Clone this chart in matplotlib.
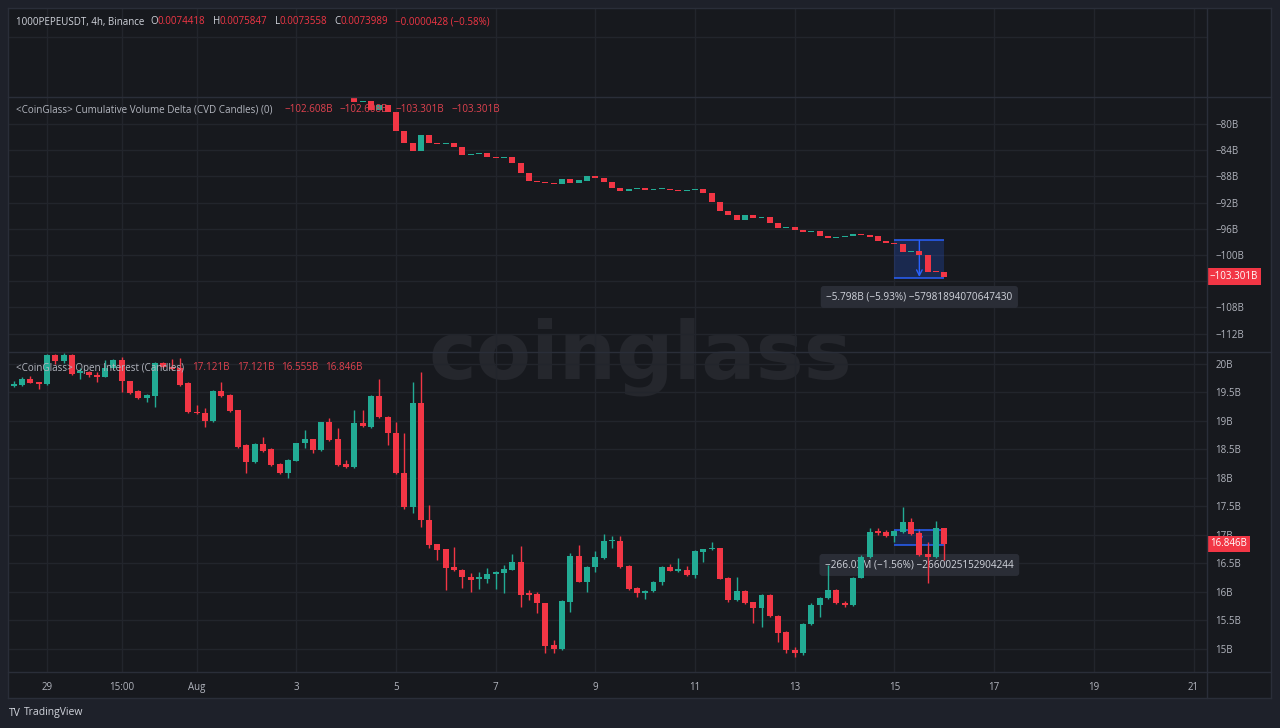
import matplotlib
matplotlib.use('Agg')
import matplotlib.pyplot as plt
import matplotlib.dates as mdates
import matplotlib.transforms as mtrans
from matplotlib.lines import Line2D
from matplotlib.patches import Rectangle
import numpy as np
import pandas as pd

plt.rcParams['font.family'] = ['Open Sans', 'DejaVu Sans']

W, H = 1280, 728
BG = '#17191e'
OUTER = '#1e212a'
GRID = '#22252c'
LINE = '#2a2e39'
UP = '#22ab94'
DOWN = '#f23645'
TXT = '#b2b5be'
LIGHT = '#d1d4dc'
VAL = '#e0424f'
MEAS = '#2962ff'

# ---- data -------------------------------------------------------------
times = pd.date_range('2024-07-28 08:00', periods=113, freq='4h')

oi_open = [19.62, 19.63, 19.74, 19.67, 19.65, 20.16, 20.05, 20.16, 19.84, 19.86,
           19.80, 19.78, 19.93, 20.07, 19.70, 19.53, 19.40, 19.44, 20.02, 19.95,
           19.93, 19.67, 19.16, 19.14, 19.00, 19.53, 19.46, 19.19, 18.58, 18.28,
           18.60, 18.51, 18.25, 18.09, 18.30, 18.61, 18.68, 18.49, 18.98, 18.68,
           18.25, 18.19, 18.96, 18.89, 19.44, 19.07, 18.79, 18.09, 17.49, 19.32,
           17.26, 16.84, 16.75, 16.44, 16.39, 16.27, 16.23, 16.23, 16.31, 16.33,
           16.39, 16.53, 15.97, 15.96, 15.80, 15.07, 15.00, 15.82, 16.63, 16.18,
           16.44, 16.60, 16.89, 16.89, 16.46, 16.07, 15.98, 16.02, 16.18, 16.44,
           16.37, 16.39, 16.30, 16.71, 16.75, 16.77, 16.25, 15.86, 16.02, 15.82,
           15.72, 15.95, 15.58, 15.30, 14.99, 14.93, 15.44, 15.77, 15.89, 16.04,
           15.81, 15.77, 16.25, 16.61, 17.05, 17.05, 16.98, 17.05, 17.23, 17.04,
           16.67, 16.61, 17.121]
oi_close = [19.65, 19.74, 19.67, 19.65, 20.16, 20.05, 20.16, 19.82, 19.88, 19.80,
            19.78, 19.93, 20.07, 19.70, 19.49, 19.40, 19.46, 20.02, 19.95, 19.92,
            19.63, 19.16, 19.14, 19.00, 19.53, 19.44, 19.18, 18.54, 18.28, 18.60,
            18.47, 18.23, 18.09, 18.32, 18.61, 18.68, 18.49, 18.98, 18.67, 18.23,
            18.19, 18.96, 18.91, 19.44, 19.07, 18.79, 18.09, 17.49, 19.32, 17.26,
            16.82, 16.74, 16.42, 16.39, 16.26, 16.21, 16.25, 16.31, 16.35, 16.40,
            16.53, 15.95, 15.95, 15.80, 15.05, 15.00, 15.84, 16.63, 16.18, 16.44,
            16.61, 16.89, 16.91, 16.44, 16.05, 15.98, 16.02, 16.18, 16.44, 16.37,
            16.39, 16.30, 16.72, 16.75, 16.77, 16.23, 15.86, 16.02, 15.81, 15.72,
            15.95, 15.58, 15.28, 14.98, 14.93, 15.44, 15.77, 15.89, 16.04, 15.81,
            15.77, 16.25, 16.61, 17.05, 17.04, 16.98, 17.07, 17.23, 17.02, 16.65,
            16.61, 17.12, 16.846]
oi_high = [19.70, 19.77, 19.79, 19.68, 20.18, 20.18, 20.19, 20.18, 19.93, 19.88,
           19.86, 20.07, 20.08, 20.12, 19.71, 19.54, 19.47, 20.03, 20.04, 20.09,
           20.10, 19.68, 19.28, 19.23, 19.54, 19.68, 19.47, 19.20, 18.59, 18.61,
           18.72, 18.52, 18.26, 18.33, 18.62, 18.84, 18.69, 18.99, 19.05, 18.88,
           18.32, 19.19, 19.19, 19.46, 19.74, 19.08, 18.98, 18.79, 19.68, 19.86,
           17.53, 16.85, 16.76, 16.79, 16.40, 16.34, 16.35, 16.42, 16.37, 16.48,
           16.66, 16.81, 16.04, 16.00, 15.81, 15.16, 15.86, 16.68, 16.82, 16.46,
           16.72, 17.02, 16.98, 16.98, 16.47, 16.08, 16.03, 16.19, 16.46, 16.49,
           16.60, 16.46, 16.73, 16.76, 16.88, 16.78, 16.27, 16.27, 16.04, 15.83,
           15.97, 15.96, 15.59, 15.31, 15.04, 15.45, 15.80, 15.91, 16.47, 16.05,
           15.85, 16.26, 16.64, 17.12, 17.12, 17.09, 17.09, 17.49, 17.29, 17.07,
           16.87, 17.25, 17.121]
oi_low = [19.60, 19.61, 19.66, 19.56, 19.63, 20.00, 20.02, 19.80, 19.74, 19.78,
          19.68, 19.77, 19.92, 19.51, 19.47, 19.38, 19.33, 19.25, 19.93, 19.90,
          19.62, 19.14, 19.12, 18.89, 18.98, 19.42, 19.16, 18.52, 18.09, 18.26,
          18.45, 18.21, 18.07, 18.00, 18.29, 18.53, 18.44, 18.47, 18.65, 18.21,
          18.17, 18.17, 18.89, 18.87, 19.05, 18.58, 18.07, 17.46, 17.39, 17.14,
          16.77, 16.56, 16.04, 16.36, 16.07, 16.00, 16.05, 16.15, 16.05, 15.98,
          16.38, 15.74, 15.86, 15.63, 14.93, 14.93, 14.98, 15.65, 16.17, 16.00,
          16.35, 16.58, 16.77, 16.42, 16.03, 15.91, 15.88, 16.00, 16.12, 16.36,
          16.35, 16.28, 16.25, 16.52, 16.74, 16.22, 15.82, 15.85, 15.79, 15.46,
          15.38, 15.56, 15.12, 14.93, 14.86, 14.90, 15.42, 15.56, 15.88, 15.79,
          15.74, 15.76, 16.24, 16.60, 17.00, 16.97, 16.88, 17.04, 17.00, 16.63,
          16.16, 16.59, 16.555]

# CVD candles are visible from the 42nd bar on
cvd_times = times[41:]
cvd_open = [-76.03, -76.64, -76.49, -77.86, -77.10, -78.17, -81.07, -82.90, -84.12, -81.68,
            -82.90, -83.05, -82.90, -83.51, -84.73, -84.58, -84.43, -85.04, -85.20, -85.04,
            -85.95, -87.48, -88.70, -88.85, -89.00, -89.15, -88.40, -89.00, -88.70, -87.94,
            -88.24, -88.85, -89.77, -90.23, -89.92, -89.77, -90.08, -89.98, -89.90, -90.08,
            -90.23, -90.10, -89.95, -90.50, -91.86, -93.28, -93.89, -94.66, -93.89, -94.35,
            -94.20, -95.11, -95.88, -95.73, -96.18, -96.49, -96.34, -97.10, -97.40, -97.25,
            -97.10, -96.79, -96.95, -97.10, -97.86, -98.17, -98.32, -99.54, -99.39, -100.00,
            -102.50, -102.608]
cvd_close = [-76.64, -76.49, -77.86, -77.10, -78.17, -81.07, -82.90, -84.12, -81.68, -82.90,
             -83.05, -82.90, -83.51, -84.73, -84.58, -84.43, -85.04, -85.20, -85.04, -85.95,
             -87.48, -88.70, -88.85, -89.00, -89.15, -88.40, -89.00, -88.55, -87.94, -88.24,
             -88.85, -89.77, -90.23, -89.92, -89.77, -90.08, -89.95, -89.90, -90.15, -90.23,
             -90.05, -89.95, -90.50, -91.86, -93.28, -93.89, -94.66, -93.89, -94.35, -94.20,
             -95.11, -95.88, -95.73, -96.18, -96.49, -96.34, -97.10, -97.40, -97.25, -97.10,
             -96.79, -96.95, -97.25, -97.86, -98.17, -98.32, -99.54, -99.39, -100.00, -102.60,
             -102.608, -103.301]

cvd_ticks = [-80, -84, -88, -92, -96, -100, -104, -108, -112]
cvd_tick_labels = ['\u221280B', '\u221284B', '\u221288B', '\u221292B', '\u221296B',
                   '\u2212100B', '\u2212104B', '\u2212108B', '\u2212112B']
oi_ticks = [20, 19.5, 19, 18.5, 18, 17.5, 17, 16.5, 16, 15.5, 15]
oi_tick_labels = ['20B', '19.5B', '19B', '18.5B', '18B', '17.5B', '17B',
                  '16.5B', '16B', '15.5B', '15B']

date_ticks = pd.to_datetime(['2024-07-29 00:00', '2024-07-30 12:00', '2024-08-01 00:00',
                             '2024-08-03 00:00', '2024-08-05 00:00', '2024-08-07 00:00',
                             '2024-08-09 00:00', '2024-08-11 00:00', '2024-08-13 00:00',
                             '2024-08-15 00:00', '2024-08-17 00:00', '2024-08-19 00:00',
                             '2024-08-21 00:00'])
date_labels = ['29', '15:00', 'Aug', '3', '5', '7', '9', '11', '13', '15', '17', '19', '21']

# measure tool ranges (top, bottom) and texts
cvd_meas = (-97.77, -103.57)
cvd_meas_text = '\u22125.798B (\u22125.93%) \u221257981894070647430'
oi_meas = (17.09, 16.824)
oi_meas_text = '\u2212266.03M (\u22121.56%) \u22122660025152904244'

# ---- figure -----------------------------------------------------------
fig = plt.figure(figsize=(W / 100, H / 100), dpi=100, facecolor=OUTER)


def px_axes(x0, y0, x1, y1):
    ax = fig.add_axes([x0 / W, 1 - y1 / H, (x1 - x0) / W, (y1 - y0) / H])
    for s in ax.spines.values():
        s.set_visible(False)
    ax.set_facecolor('none')
    return ax


def hline(y, x0=8, x1=1271, color=LINE):
    fig.add_artist(Line2D([x0 / W, x1 / W], [1 - y / H, 1 - y / H],
                          transform=fig.transFigure, color=color, lw=1))


def vline(x, y0=8, y1=698, color=LINE):
    fig.add_artist(Line2D([x / W, x / W], [1 - y0 / H, 1 - y1 / H],
                          transform=fig.transFigure, color=color, lw=1))


def text_run(x, y, parts, size=7):
    r = fig.canvas.get_renderer()
    for s, col, gap in parts:
        t = fig.text(x / W, 1 - y / H, s, color=col, fontsize=size,
                     ha='left', va='center', zorder=20)
        x += t.get_window_extent(r).width + gap


def candles(ax, t, o, c, h=None, l=None, min_body=0.0):
    x = mdates.date2num(t)
    o = np.asarray(o)
    c = np.asarray(c)
    col = np.where(c >= o, UP, DOWN)
    if h is not None:
        ax.vlines(x, l, h, colors=col, lw=1, zorder=5)
    body = np.maximum(np.abs(c - o), min_body)
    ax.bar(x, body, bottom=np.minimum(o, c), width=0.12, color=col, lw=0, zorder=6)


def price_tag(ax, value, text):
    tr = mtrans.blended_transform_factory(ax.transAxes, ax.transData)
    tr = mtrans.offset_copy(tr, fig=fig, x=3, y=0, units='dots')
    ax.text(1.0, value, text, transform=tr, ha='left', va='center', color='white',
            fontsize=7, zorder=20, clip_on=False,
            bbox=dict(boxstyle='square,pad=0.28', fc=DOWN, ec='none'))


ax_bg = px_axes(8, 8, 1271, 698)
ax_bg.set_facecolor(BG)
ax_bg.set_xticks([])
ax_bg.set_yticks([])
ax_bg.text(640 / W, 1 - 379 / H, 'coinglass', transform=fig.transFigure,
           ha='center', va='baseline', fontsize=58, fontweight='bold',
           color='#25272d', family='DejaVu Sans')

ax_price = px_axes(8, 8, 1207, 97)
ax_cvd = px_axes(8, 97, 1207, 352)
ax_oi = px_axes(8, 352, 1207, 672)

x_lo = mdates.date2num(pd.Timestamp('2024-07-29') - pd.Timedelta(days=0.782))
x_hi = mdates.date2num(pd.Timestamp('2024-07-29') + pd.Timedelta(days=23.27))
tick_nums = mdates.date2num(date_ticks)

for ax in (ax_price, ax_cvd, ax_oi):
    ax.set_xlim(x_lo, x_hi)
    ax.set_xticks(tick_nums)
    ax.set_axisbelow(True)
    ax.grid(True, color=GRID, lw=1)
    ax.tick_params(axis='both', length=0)
    ax.tick_params(axis='x', labelbottom=False)
    ax.yaxis.tick_right()
    ax.tick_params(axis='y', pad=6, labelsize=7, labelcolor=TXT)

ax_price.set_ylim(0, 1)
ax_price.set_yticks([0.674], [''])

ax_cvd.set_ylim(-114.81, -75.88)
ax_cvd.set_yticks(cvd_ticks, cvd_tick_labels)
ax_oi.set_ylim(14.596, 20.21)
ax_oi.set_yticks(oi_ticks, oi_tick_labels)
ax_oi.set_xticks(tick_nums, date_labels)
ax_oi.tick_params(axis='x', labelbottom=True, pad=7, labelsize=7, labelcolor=TXT)

candles(ax_cvd, cvd_times, cvd_open, cvd_close, min_body=0.2)
candles(ax_oi, times, oi_open, oi_close, oi_high, oi_low, min_body=0.025)

# measure boxes
t_a, t_m, t_b = mdates.date2num([times[106], times[109], times[112]])
for ax, (top, bot), txt, ty, alpha in ((ax_cvd, cvd_meas, cvd_meas_text, -106.41, 0.22),
                                       (ax_oi, oi_meas, oi_meas_text, 16.474, 0.16)):
    ax.add_patch(Rectangle((t_a, bot), t_b - t_a, top - bot, fc=MEAS, alpha=alpha,
                           ec='none', zorder=2))
    ax.hlines([top, bot], t_a, t_b, color=MEAS, lw=1.2, alpha=0.9, zorder=3)
    ax.annotate('', xy=(t_m, bot), xytext=(t_m, top),
                arrowprops=dict(arrowstyle='->', color=MEAS, lw=1, shrinkA=0, shrinkB=1),
                zorder=3)
    ax.text(t_m, ty, txt, ha='center', va='center', color=LIGHT, fontsize=7.2, zorder=4,
            bbox=dict(boxstyle='round,pad=0.55,rounding_size=0.3', fc='#2a2d36', ec='none'))

price_tag(ax_cvd, cvd_close[-1], '\u2212103.301B')
price_tag(ax_oi, oi_close[-1], '16.846B')

# pane separators / frame
for y in (8, 97, 352, 672, 698):
    hline(y)
vline(8)
vline(1207)
vline(1271)

# legends
text_run(16, 22, [('1000PEPEUSDT, 4h, Binance', LIGHT, 6),
                  ('O', LIGHT, 0), ('0.0074418', DOWN, 7),
                  ('H', LIGHT, 0), ('0.0075847', DOWN, 7),
                  ('L', LIGHT, 0), ('0.0073558', DOWN, 7),
                  ('C', LIGHT, 0), ('0.0073989', DOWN, 7),
                  ('\u22120.0000428 (\u22120.58%)', DOWN, 0)])
text_run(16, 110, [('<CoinGlass> Cumulative Volume Delta (CVD Candles) (0)', TXT, 12),
                   ('\u2212102.608B', VAL, 7), ('\u2212102.608B', VAL, 7),
                   ('\u2212103.301B', VAL, 7), ('\u2212103.301B', VAL, 0)], size=7.1)
text_run(16, 368, [('<CoinGlass> Open Interest (Candles)', TXT, 8),
                   ('17.121B', VAL, 7), ('17.121B', VAL, 7),
                   ('16.555B', VAL, 7), ('16.846B', VAL, 0)], size=7.1)

text_run(9, 713, [('TV', LIGHT, 3), ('TradingView', LIGHT, 0)], size=7.5)

fig.savefig('out.png', dpi=100, facecolor=OUTER)
